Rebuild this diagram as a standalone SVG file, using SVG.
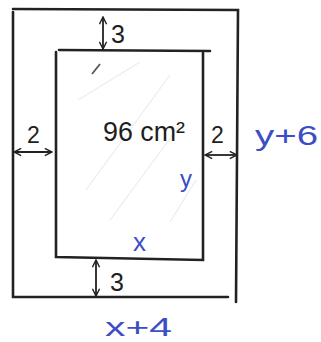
<svg xmlns="http://www.w3.org/2000/svg" width="321" height="342" viewBox="0 0 321 342">
  <style>
    .frame { fill: none; stroke: #222; stroke-width: 2.6; stroke-linecap: round; }
    .dim { fill: none; stroke: #222; stroke-width: 1.8; }
    .faint { fill: none; stroke: #ececec; stroke-width: 1.2; }
    .blk { font-family: "Liberation Sans", Arial, sans-serif; fill: #1e1e1e; }
    .blu { font-family: "Liberation Sans", Arial, sans-serif; fill: #3b4ec4; }
  </style>
  <defs>
    <marker id="arr" viewBox="0 0 10 10" refX="9" refY="5" markerWidth="9" markerHeight="9" markerUnits="userSpaceOnUse" orient="auto-start-reverse">
      <path d="M1,1 L9,5 L1,9" fill="none" stroke="#222" stroke-width="1.6"/>
    </marker>
  </defs>
  <rect width="321" height="342" fill="#ffffff"/>

  <g id="hatching">
    <line class="faint" x1="78" y1="100" x2="140" y2="62"/>
    <line class="faint" x1="86" y1="190" x2="170" y2="75"/>
    <line class="faint" x1="110" y1="220" x2="180" y2="125"/>
    <line class="faint" x1="170" y1="222" x2="196" y2="180"/>
    <line x1="92" y1="74" x2="100" y2="64" stroke="#555" stroke-width="1.8"/>
  </g>

  <g id="outer-frame">
    <path class="frame" d="M13,12 L13,297 L228,297"/>
    <path class="frame" d="M13,9 L238,10 L236,302"/>
  </g>

  <g id="inner-picture">
    <path class="frame" d="M59,50 L210,51"/>
    <path class="frame" d="M56,52 L56,257 L203,260 L203,53"/>
  </g>

  <g id="connectors">
    <line class="dim" x1="103" y1="17" x2="103" y2="49" marker-start="url(#arr)" marker-end="url(#arr)"/>
    <line class="dim" x1="96" y1="260" x2="96" y2="296" marker-start="url(#arr)" marker-end="url(#arr)"/>
    <line class="dim" x1="14" y1="152" x2="52" y2="152" marker-start="url(#arr)" marker-end="url(#arr)"/>
    <line class="dim" x1="205" y1="155" x2="237" y2="155" marker-start="url(#arr)" marker-end="url(#arr)"/>
  </g>

  <g id="labels">
    <text class="blk" x="111" y="43" font-size="25">3</text>
    <text class="blk" x="110" y="291" font-size="25">3</text>
    <text class="blk" x="27" y="143" font-size="23">2</text>
    <text class="blk" x="211" y="143" font-size="23">2</text>
    <text class="blk" x="103" y="141" font-size="28" textLength="82" lengthAdjust="spacingAndGlyphs">96 cm²</text>
    <text class="blu" x="255" y="145" font-size="27" textLength="63" lengthAdjust="spacingAndGlyphs">y+6</text>
    <text class="blu" x="180" y="187" font-size="24">y</text>
    <text class="blu" x="133" y="251" font-size="26">x</text>
    <text class="blu" x="105" y="336" font-size="26" textLength="67" lengthAdjust="spacingAndGlyphs">x+4</text>
  </g>
</svg>
